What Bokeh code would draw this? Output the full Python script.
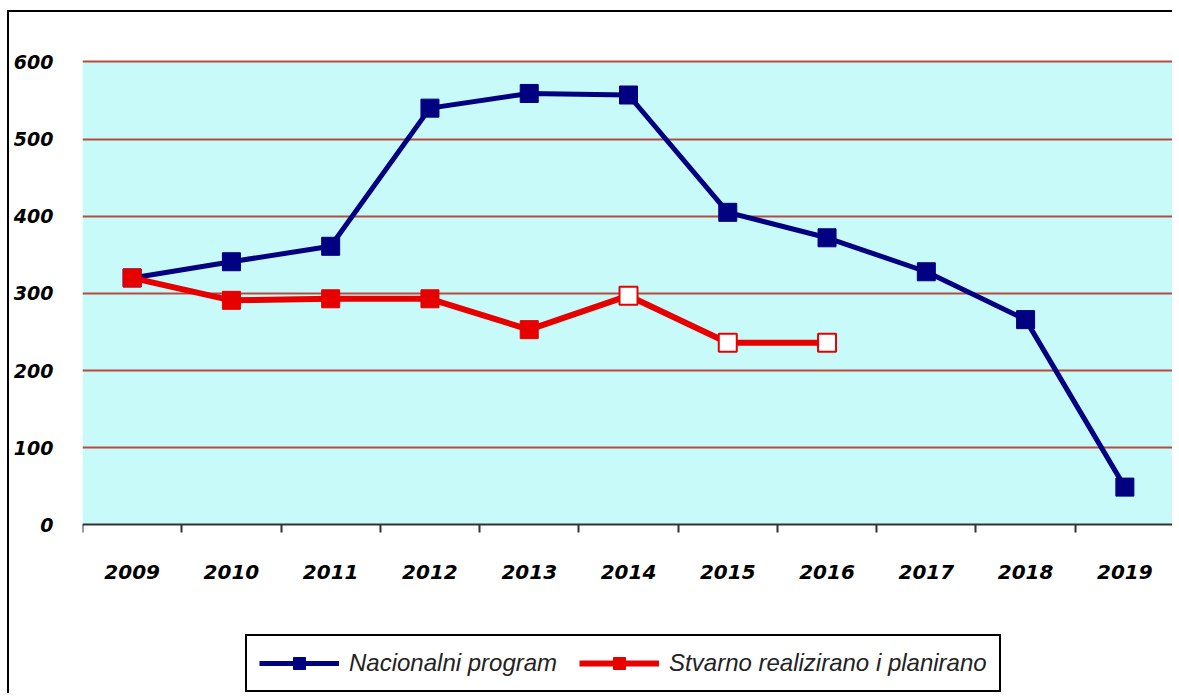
from bokeh.plotting import figure
from bokeh.models import (FactorRange, Range1d, LinearAxis, CategoricalAxis, FixedTicker,
                          Legend, LegendItem, ColumnDataSource, BoxAnnotation)
from bokeh.embed import file_html
from bokeh.resources import INLINE

years = ["2009", "2010", "2011", "2012", "2013", "2014", "2015", "2016", "2017", "2018", "2019"]
nacionalni = [320, 341, 361, 540, 559, 557, 405, 372, 328, 266, 49]
stvarno_years = ["2009", "2010", "2011", "2012", "2013", "2014", "2015", "2016"]
stvarno = [320, 291, 293, 293, 253, 297, 236, 236]
stvarno_planned = [False, False, False, False, False, True, True, True]
y_ticks = [0, 100, 200, 300, 400, 500, 600]

BLUE = "#000080"
RED = "#E60000"
GRID = "#B84B40"
CYAN = "#C8FAF9"

# the frame extends below zero so that the axis labels and legend live inside it
p = figure(width=1165, height=683, x_range=FactorRange(*years, range_padding=0),
           y_range=Range1d(-221, 603), output_backend="svg", toolbar_location=None,
           x_axis_location=None, y_axis_location=None,
           min_border_left=73, min_border_right=0, min_border_top=47, min_border_bottom=0)
p.background_fill_color = "white"
p.border_fill_color = "white"
p.outline_line_color = None
p.xgrid.visible = False
p.styles = {"border-top": "2px solid black", "border-left": "2px solid black",
            "margin-top": "10px", "margin-left": "7px"}

p.add_layout(BoxAnnotation(bottom=0, top=600, fill_color=CYAN, fill_alpha=1,
                           line_color=None, level="image"))

# y axis
yax = LinearAxis(ticker=FixedTicker(ticks=y_ticks))
yax.axis_line_color = None
yax.major_tick_line_color = None
yax.major_tick_out = 0
yax.major_tick_in = 0
yax.minor_tick_line_color = None
yax.major_label_standoff = 29
yax.major_label_text_font = "DejaVu Sans"
yax.major_label_text_font_style = "bold italic"
yax.major_label_text_font_size = "19px"
yax.major_label_text_color = "black"
p.add_layout(yax, "left")

p.ygrid.ticker = FixedTicker(ticks=y_ticks[1:])
p.ygrid.grid_line_color = GRID
p.ygrid.grid_line_width = 2
p.ygrid.level = "underlay"

# boundary ticks axis at y = 0 (category boundaries in synthetic coordinates)
bounds = list(range(len(years) + 1))
bax = LinearAxis(ticker=FixedTicker(ticks=bounds), fixed_location=0)
bax.axis_line_color = "#333333"
bax.axis_line_width = 2
bax.major_tick_line_color = "#333333"
bax.major_tick_line_width = 2
bax.major_tick_out = 8
bax.major_tick_in = 0
bax.minor_tick_line_color = None
bax.major_label_overrides = {b: " " for b in bounds}
bax.major_label_text_font_size = "2px"
bax.major_label_standoff = 0
p.add_layout(bax, "below")

# category labels axis at y = 0
cax = CategoricalAxis(fixed_location=0)
cax.axis_line_color = None
cax.major_tick_line_color = None
cax.major_tick_out = 0
cax.major_label_standoff = 40
cax.major_label_text_font = "DejaVu Sans"
cax.major_label_text_font_style = "bold italic"
cax.major_label_text_font_size = "20px"
cax.major_label_text_color = "black"
p.add_layout(cax, "below")

# series
nl = p.line(years, nacionalni, line_color=BLUE, line_width=5)
ns = p.scatter(years, nacionalni, marker="square", size=18, fill_color=BLUE, line_color=BLUE)

sl = p.line(stvarno_years, stvarno, line_color=RED, line_width=6)
fills = ["white" if f else RED for f in stvarno_planned]
lw = [2 if f else 1 for f in stvarno_planned]
src = ColumnDataSource(dict(x=stvarno_years, y=stvarno, fill=fills, lw=lw))
ss = p.scatter("x", "y", source=src, marker="square", size=18, fill_color="fill",
               line_color=RED, line_width="lw")

legend = Legend(items=[LegendItem(label="Nacionalni program", renderers=[nl, ns]),
                       LegendItem(label="Stvarno realizirano i planirano", renderers=[sl, ss])],
                orientation="horizontal", location=(163, 3), nrows=1)
legend.label_text_font = "Liberation Sans"
legend.label_text_font_style = "italic"
legend.label_text_font_size = "24px"
legend.label_text_color = "#222222"
legend.glyph_width = 80
legend.glyph_height = 30
legend.label_height = 28
legend.label_standoff = 10
legend.spacing = 22
legend.padding = 12
legend.margin = 0
legend.border_line_color = "black"
legend.border_line_alpha = 1
legend.border_line_width = 2
legend.background_fill_color = "white"
legend.background_fill_alpha = 1
p.add_layout(legend, "center")

open("out.html", "w").write(file_html(p, INLINE))
